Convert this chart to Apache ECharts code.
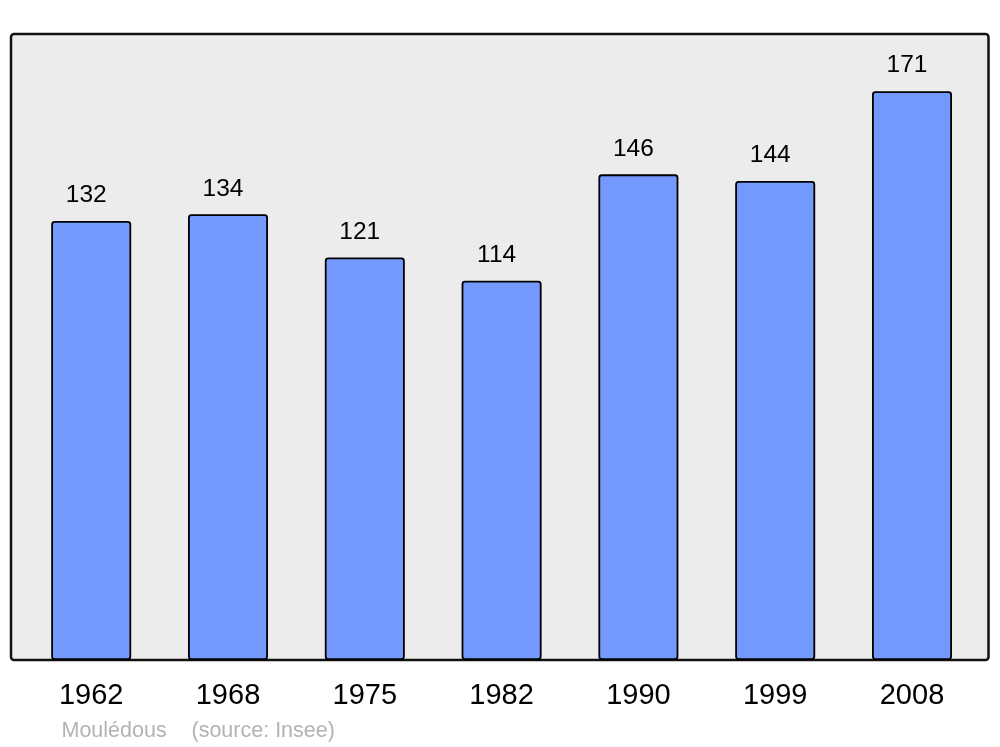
<!DOCTYPE html>
<html>
<head>
<meta charset="utf-8">
<script src="https://cdn.jsdelivr.net/npm/echarts@6/dist/echarts.min.js"></script>
<style>
html,body{margin:0;padding:0;background:#fff;}
#chart{width:1000px;height:747px;}
</style>
</head>
<body>
<div id="chart"></div>
<script>
var years = ['1962', '1968', '1975', '1982', '1990', '1999', '2008'];
var population = [132, 134, 121, 114, 146, 144, 171];
var footerName = 'Moulédous';
var footerSource = '(source: Insee)';

var chart = echarts.init(document.getElementById('chart'));
var font = '"Liberation Sans", Arial, sans-serif';
chart.setOption({
  animation: false,
  backgroundColor: '#ffffff',
  grid: { left: 22.8, right: 19.6, top: 34, bottom: 87, containLabel: false },
  graphic: [
    {
      type: 'rect', z: -10,
      shape: { x: 11, y: 34, width: 977.5, height: 626, r: 3 },
      style: { fill: '#ececec', stroke: '#111111', lineWidth: 2.5 }
    },
    {
      type: 'text', left: 61.5, top: 720, z: 10,
      style: { text: footerName, fill: '#b3b3b3', font: '21.5px ' + font }
    },
    {
      type: 'text', left: 191.5, top: 720, z: 10,
      style: { text: footerSource, fill: '#b3b3b3', font: '21.5px ' + font }
    }
  ],
  xAxis: {
    type: 'category',
    data: years,
    axisLine: { show: false },
    axisTick: { show: false },
    axisLabel: { color: '#000', fontSize: 29, fontFamily: font, margin: 21, offset: 0 }
  },
  yAxis: {
    type: 'value', min: 0, max: 188.2,
    show: false,
    splitLine: { show: false }
  },
  series: [{
    type: 'bar',
    data: population,
    barWidth: 80,
    itemStyle: { color: '#7399ff', borderColor: '#000', borderWidth: 1.8, borderRadius: 2.5 },
    label: {
      show: true, position: 'top', distance: 13, offset: [-5, 0],
      color: '#000', fontSize: 24.5, fontFamily: font
    }
  }]
});
</script>
</body>
</html>
